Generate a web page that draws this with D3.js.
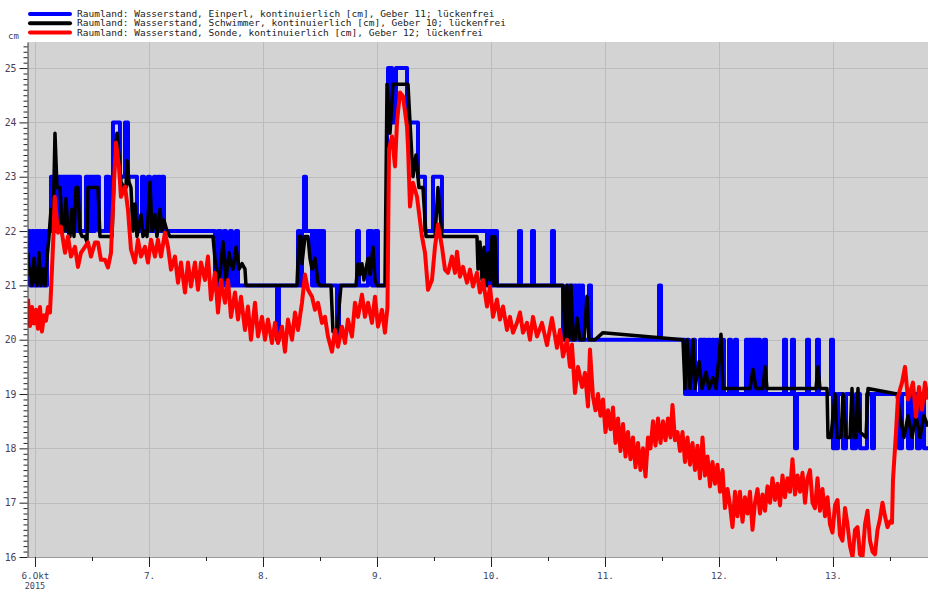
<!DOCTYPE html>
<html>
<head>
<meta charset="utf-8">
<script src="https://cdn.jsdelivr.net/npm/d3@7"></script>
<style>
body { margin: 0; background: #fff; }
svg text { font-family: "DejaVu Sans Mono", "Liberation Mono", monospace; }
</style>
</head>
<body>
<div class="chart"></div>
<script>
// Raumland water level, 6. - 13. Oct 2015
// times are hours after 6 Oct 2015 00:00, levels in cm

var seriesNames = [
    "Raumland: Wasserstand, Einperl, kontinuierlich [cm], Geber 11; lückenfrei",
    "Raumland: Wasserstand, Schwimmer, kontinuierlich [cm], Geber 10; lückenfrei",
    "Raumland: Wasserstand, Sonde, kontinuierlich [cm], Geber 12; lückenfrei"
];
var seriesColors = ["#0000ff", "#000000", "#ff0000"];
var yTicks = [16, 17, 18, 19, 20, 21, 22, 23, 24, 25];
var xTickLabels = ["6.Okt", "7.", "8.", "9.", "10.", "11.", "12.", "13."];
var yearLabel = "2015";
var unitLabel = "cm";

// Einperl, whole cm, value holds until the next entry
var einperl = [
    [-1.47,22],[-1.05,21],[-0.63,22],[-0.21,21],[0.21,22],[0.63,21],[0.84,22],[1.26,21],[1.68,22],[2.11,21],
    [2.53,22],[3.37,23],[4.0,22],[4.21,23],[4.84,22],[5.05,23],[5.68,22],[5.89,23],[6.53,22],[6.74,23],
    [7.37,22],[7.58,23],[8.21,22],[8.42,23],[8.84,22],[9.05,23],[9.47,22],[10.74,23],[11.16,22],[11.37,23],
    [11.79,22],[12.0,23],[12.42,22],[12.63,23],[13.47,22],[14.95,23],[15.58,22],[16.21,23],[16.42,24],[17.89,23],
    [18.95,24],[19.58,23],[21.47,22],[22.53,23],[22.95,22],[23.79,23],[24.21,22],[25.05,23],[25.47,22],[25.89,23],
    [26.32,22],[26.74,23],[27.16,22],[37.89,21],[38.53,22],[39.16,21],[39.79,22],[40.21,21],[41.05,22],[41.47,21],
    [42.32,22],[42.74,21],[50.95,20],[51.37,21],[55.37,22],[55.79,21],[56.21,22],[56.63,23],[57.05,22],[58.32,21],
    [58.53,22],[59.16,21],[59.37,22],[60.0,21],[60.21,22],[60.84,21],[63.58,20],[64.0,21],[67.79,22],[68.21,21],
    [70.11,22],[70.95,21],[71.58,22],[72.21,21],[73.89,22],[74.11,24],[74.32,25],[75.16,24],[76.0,25],[78.32,24],
    [80.63,23],[82.11,22],[83.79,23],[85.68,22],[95.16,21],[95.58,22],[96.0,21],[96.21,22],[96.63,21],[96.84,22],
    [97.26,21],[101.89,22],[102.32,21],[104.63,22],[105.05,21],[108.84,22],[109.26,21],[111.16,20],[112.0,21],[112.42,20],
    [112.84,21],[113.26,20],[113.68,21],[113.89,20],[114.32,21],[114.74,20],[115.16,21],[115.37,20],[116.63,21],[117.05,20],
    [131.37,21],[131.79,20],[136.84,19],[137.26,20],[137.68,19],[138.53,20],[138.95,19],[140.0,20],[140.42,19],[140.63,20],
    [141.26,19],[141.68,20],[142.11,19],[142.53,20],[142.95,19],[143.37,20],[143.79,19],[144.63,20],[145.05,19],[146.11,20],
    [146.53,19],[147.37,20],[147.79,19],[149.68,20],[150.11,19],[150.32,20],[150.74,19],[150.95,20],[151.16,19],[151.37,20],
    [152.0,19],[152.21,20],[152.63,19],[153.47,20],[153.89,19],[157.68,20],[158.11,19],[159.37,20],[159.79,19],[160.0,18],
    [160.42,19],[162.53,20],[162.95,19],[164.63,20],[165.05,19],[167.58,20],[168.0,18],[168.42,19],[168.63,18],[169.05,19],
    [170.11,18],[170.74,19],[172.0,18],[172.84,19],[173.68,18],[175.16,19],[176.21,18],[176.63,19],[181.89,18],[182.53,19],
    [183.79,18],[184.63,19],[185.68,18],[186.32,19],[187.16,18],[188.0,18]
];

// Schwimmer
var schwimmer = [
    [-1.47,21.6],[-1.26,21.2],[-0.84,21.3],[-0.63,21.0],[-0.21,21.5],[0,21.1],[0.42,21.0],[0.84,21.6],[1.26,21.0],[1.68,21.3],
    [2.11,21.0],[2.53,21.5],[2.95,21.9],[3.37,22.4],[3.79,22.0],[4.21,23.8],[4.63,22.8],[5.26,22.8],[5.68,22.1],[6.11,22.0],
    [6.53,22.6],[6.95,22.0],[7.37,21.9],[7.79,22.4],[8.21,21.9],[8.63,22.8],[9.05,22.8],[9.47,22.0],[9.89,21.9],[10.53,21.9],
    [10.95,21.8],[11.16,22.8],[13.26,22.8],[13.68,21.9],[16.21,21.9],[16.84,23.4],[17.26,23.8],[17.68,23.4],[18.11,22.9],[18.74,22.8],
    [19.16,22.8],[19.37,23.3],[19.79,22.9],[20.21,22.8],[20.63,22.0],[21.05,22.5],[21.47,21.9],[21.89,22.1],[22.32,22.3],[22.74,21.9],
    [23.16,22.0],[23.58,21.9],[24.21,22.9],[24.63,22.0],[25.26,22.3],[25.68,21.9],[26.32,22.4],[26.74,22.0],[27.16,22.2],[27.79,22.0],
    [28.42,21.9],[37.47,21.9],[37.89,21.5],[38.53,21.1],[38.95,21.2],[39.58,21.8],[40.21,21.1],[40.84,21.6],[41.26,21.4],[41.68,21.3],
    [42.32,21.7],[42.95,21.3],[43.58,21.4],[44.21,21.3],[44.42,21.0],[55.16,21.0],[55.58,21.9],[56.0,21.9],[56.21,21.4],[56.84,21.9],
    [57.47,21.9],[57.89,21.5],[58.32,21.3],[58.95,21.5],[59.58,21.05],[60.0,21.0],[62.32,21.0],[62.74,20.15],[63.58,20.15],[64.42,21.0],
    [67.58,21.0],[68.0,21.4],[68.42,21.2],[68.84,21.4],[69.26,21.1],[69.68,21.3],[70.11,21.5],[70.53,21.2],[71.16,21.7],[71.58,21.1],
    [72.0,21.0],[73.68,21.0],[74.11,24.7],[74.74,23.8],[75.37,24.7],[78.53,24.7],[78.95,24.0],[79.58,23.0],[80.21,23.4],[80.84,22.8],
    [81.68,22.8],[82.32,21.9],[84.21,21.9],[84.84,22.8],[85.68,21.9],[93.05,21.9],[93.26,21.3],[93.68,21.8],[94.11,21.1],[94.53,21.7],
    [94.95,21.0],[95.37,21.6],[95.79,21.1],[96.21,21.9],[96.63,21.0],[96.84,21.9],[97.26,21.0],[111.16,21.0],[111.58,20.0],[112.0,21.0],
    [112.42,20.0],[112.84,21.0],[113.26,20.0],[113.68,20.0],[114.11,20.4],[114.74,20.0],[115.58,20.0],[116.21,20.8],[116.63,20.0],[117.89,20.0],
    [119.58,20.13],[136.42,20.0],[136.84,19.1],[137.26,20.0],[137.89,19.1],[138.53,20.0],[138.95,19.1],[139.79,19.6],[140.42,19.1],[141.26,19.4],
    [141.89,19.1],[142.74,19.3],[143.37,19.1],[144.42,20.1],[144.84,19.1],[150.53,19.1],[151.16,19.45],[151.79,19.1],[153.26,19.1],[153.68,19.5],
    [154.11,19.1],[164.42,19.1],[164.84,19.5],[165.26,19.1],[166.74,19.1],[166.95,18.2],[167.58,18.2],[168.42,19.0],[168.84,18.2],[169.68,18.2],
    [170.11,19.0],[170.74,18.2],[171.58,18.2],[172.0,19.1],[172.42,18.2],[172.84,18.2],[173.26,19.1],[173.68,18.3],[174.95,18.2],[175.37,19.1],
    [181.47,19.0],[182.11,18.6],[182.95,18.2],[183.79,18.6],[184.63,18.2],[185.47,18.6],[186.32,18.2],[187.16,18.6],[188.0,18.4]
];

// Sonde
var sonde = [
    [-1.47,20.75],[-1.05,20.25],[-0.63,20.6],[-0.21,20.3],[0.21,20.55],[0.63,20.2],[1.05,20.6],[1.47,20.15],[1.89,20.45],[2.32,20.35],
    [2.74,20.6],[3.16,20.5],[3.58,21.3],[3.9,21.95],[4.15,22.63],[4.84,21.97],[5.47,22.08],[6.32,21.6],[6.95,21.9],[7.58,21.53],
    [8.42,21.71],[9.05,21.34],[9.68,21.6],[10.53,21.71],[11.16,21.79],[11.79,21.53],[12.63,21.79],[13.26,21.79],[13.89,21.47],[14.74,21.47],
    [15.37,21.33],[16.0,21.6],[16.63,22.89],[17.05,23.63],[17.68,23.19],[18.1,22.63],[18.95,22.82],[19.58,22.39],[20.21,21.66],[21.05,21.42],
    [21.68,21.84],[22.32,21.53],[23.16,21.71],[23.79,21.42],[24.42,21.84],[25.26,21.53],[25.89,21.84],[26.53,21.53],[27.37,21.97],[28.0,21.71],
    [28.63,21.29],[29.47,21.53],[30.11,21.05],[30.74,21.42],[31.58,20.87],[32.21,21.42],[32.84,20.98],[33.68,21.42],[34.32,20.92],[34.95,21.42],
    [35.79,21.1],[36.42,21.53],[37.05,20.74],[37.89,21.23],[38.53,20.5],[39.16,21.1],[40.0,20.68],[40.63,21.1],[41.26,20.42],[42.11,20.87],
    [42.74,20.37],[43.37,20.79],[44.21,20.18],[44.84,20.61],[45.47,20.0],[46.32,20.68],[46.95,20.06],[47.79,20.42],[48.42,20.0],[49.05,20.37],
    [49.89,19.94],[50.53,20.31],[51.16,19.94],[52.0,20.24],[52.63,19.78],[53.26,20.37],[54.11,20.0],[54.74,20.5],[55.37,20.18],[56.21,20.68],
    [56.84,21.2],[57.47,20.92],[58.32,20.79],[58.95,20.55],[59.58,20.68],[60.42,20.31],[61.05,20.42],[61.68,20.06],[62.53,19.78],[63.16,20.18],
    [63.79,19.87],[64.63,20.24],[65.26,19.94],[65.89,20.37],[66.74,20.06],[67.37,20.68],[68.0,20.42],[68.84,20.83],[69.47,20.42],[70.11,20.68],
    [70.95,20.31],[71.58,20.79],[72.21,20.24],[73.05,20.55],[73.68,20.13],[74.21,20.6],[74.53,23.5],[75.16,23.74],[75.79,23.19],[76.21,24.0],
    [76.84,24.55],[77.47,24.48],[78.32,23.92],[78.53,23.55],[78.95,22.45],[79.58,22.89],[80.42,22.63],[80.84,22.34],[81.47,21.9],[82.11,21.6],
    [82.74,20.92],[83.58,21.1],[84.21,21.71],[84.84,22.12],[85.68,21.71],[86.32,21.29],[86.95,21.23],[87.79,21.53],[88.42,21.23],[88.84,21.62],
    [89.47,21.16],[90.11,21.34],[90.95,21.05],[91.58,21.29],[92.21,20.98],[93.05,21.23],[93.68,20.87],[94.32,21.1],[95.16,20.61],[95.79,20.98],
    [96.42,20.42],[97.26,20.74],[97.89,20.37],[98.53,20.61],[99.37,20.18],[100.0,20.42],[100.63,20.13],[101.47,20.31],[102.11,20.5],[102.74,20.13],
    [103.58,20.31],[104.21,20.0],[104.84,20.42],[105.68,20.06],[106.74,20.31],[107.79,19.9],[108.84,20.4],[109.89,19.85],[110.53,20.18],[111.16,19.69],
    [112.0,20.0],[112.63,19.5],[113.05,19.91],[113.68,19.02],[114.32,19.5],[115.16,19.13],[115.79,19.39],[116.42,18.77],[116.84,19.82],[117.47,18.95],
    [118.0,18.7],[118.53,19.0],[119.05,18.6],[119.58,18.9],[120.11,18.3],[120.63,18.7],[121.16,18.35],[121.68,18.75],[122.21,18.1],[122.74,18.55],
    [123.26,17.95],[123.79,18.45],[124.32,17.85],[124.84,18.3],[125.37,17.8],[125.89,18.2],[126.42,17.65],[126.95,18.1],[127.47,17.6],[128.0,18.0],
    [128.53,17.48],[129.05,18.2],[129.58,18.0],[130.11,18.5],[130.63,18.05],[131.16,18.55],[131.68,18.1],[132.21,18.5],[132.74,18.15],[133.26,18.55],
    [133.79,18.2],[134.21,18.8],[134.74,18.15],[135.26,18.3],[135.79,17.95],[136.32,18.3],[136.84,17.75],[137.37,18.2],[137.89,17.7],[138.42,18.1],
    [138.95,17.6],[139.47,18.05],[140.0,17.45],[140.53,18.2],[141.05,17.5],[141.58,17.85],[142.11,17.3],[142.63,17.75],[143.16,17.35],[143.68,17.7],
    [144.21,17.2],[144.74,17.6],[145.26,16.9],[145.79,17.25],[146.32,16.95],[146.84,16.55],[147.37,17.2],[147.89,16.75],[148.42,17.2],[148.95,16.65],
    [149.47,17.1],[150.0,16.8],[150.53,17.2],[151.05,16.5],[151.58,17.0],[152.11,17.25],[152.63,16.8],[153.16,17.15],[153.68,16.85],[154.21,17.3],
    [154.74,17.0],[155.26,17.45],[155.79,17.05],[156.32,17.35],[156.84,16.95],[157.37,17.5],[157.89,17.1],[158.42,17.45],[158.95,17.2],[159.47,17.8],
    [160.0,17.15],[160.53,17.5],[161.05,17.2],[161.58,17.55],[162.11,17.0],[162.63,17.45],[163.16,17.6],[163.68,17.0],[164.21,16.9],[164.74,17.45],
    [165.26,16.85],[165.79,17.25],[166.32,16.75],[166.84,17.1],[167.37,16.6],[167.89,16.45],[168.42,16.95],[168.95,17.05],[169.47,16.4],[170.0,16.3],
    [170.53,16.9],[171.05,16.6],[171.58,16.2],[172.11,16.0],[172.63,16.5],[173.16,16.55],[173.68,16.05],[174.21,16.0],[174.74,16.6],[175.26,16.85],
    [175.79,16.3],[176.32,16.1],[176.84,16.05],[177.37,16.5],[177.89,16.7],[178.42,17.0],[178.95,16.75],[179.47,16.55],[180.0,16.65],[180.42,16.63],
    [180.63,17.42],[181.26,18.29],[181.68,18.95],[182.53,19.21],[183.16,19.5],[183.79,18.9],[184.84,19.21],[185.47,18.58],[186.11,19.13],[186.74,18.71],
    [187.37,19.21],[188.0,18.9]
];

// size of the picture and the plot area
var svgWidth = 928;
var svgHeight = 589;
var margin = { top: 42, right: 0, bottom: 32, left: 28 };
var width = svgWidth - margin.left - margin.right;
var height = svgHeight - margin.top - margin.bottom;

var start = new Date(2015, 9, 6);
function toDate(h) {
    return new Date(start.getTime() + h * 3600000);
}

var svg = d3.select(".chart")
    .append("svg")
    .attr("width", svgWidth)
    .attr("height", svgHeight);

var chart = svg.append("g")
    .attr("transform", "translate(" + margin.left + "," + margin.top + ")");

// scales
var xScale = d3.scaleTime()
    .domain([toDate(-1.47), toDate(188)])
    .range([0, width]);
var yScale = d3.scaleLinear()
    .domain([16, 25.48])
    .range([height, 0]);

var days = d3.timeDay.range(toDate(0), toDate(169));
var noons = days.map(function(d) { return d3.timeHour.offset(d, 12); });
var minorY = d3.range(160, 255).filter(function(d) { return d % 10 !== 0; }).map(function(d) { return d / 10; });

// plot background and grid
chart.append("rect")
    .attr("width", width)
    .attr("height", height)
    .attr("fill", "#d3d3d3");

chart.append("g").selectAll("line")
    .data(yTicks)
    .enter().append("line")
    .attr("x1", 0)
    .attr("x2", width)
    .attr("y1", function(d) { return Math.round(yScale(d)) + 0.5; })
    .attr("y2", function(d) { return Math.round(yScale(d)) + 0.5; })
    .attr("stroke", "#bcbcbc");

chart.append("g").selectAll("line")
    .data(days)
    .enter().append("line")
    .attr("x1", function(d) { return Math.round(xScale(d)) + 0.5; })
    .attr("x2", function(d) { return Math.round(xScale(d)) + 0.5; })
    .attr("y1", 0)
    .attr("y2", height)
    .attr("stroke", "#bcbcbc");

// lines, clipped to the plot
svg.append("defs").append("clipPath")
    .attr("id", "plotclip")
    .append("rect")
    .attr("width", width)
    .attr("height", height);

var lineGroup = chart.append("g").attr("clip-path", "url(#plotclip)");

var stepLine = d3.line()
    .x(function(d) { return xScale(toDate(d[0])); })
    .y(function(d) { return yScale(d[1]); })
    .curve(d3.curveStepAfter);

var plainLine = d3.line()
    .x(function(d) { return xScale(toDate(d[0])); })
    .y(function(d) { return yScale(d[1]); });

[[einperl, stepLine, 4], [schwimmer, plainLine, 3.5], [sonde, plainLine, 4]].forEach(function(s, i) {
    lineGroup.append("path")
        .datum(s[0])
        .attr("d", s[1])
        .attr("fill", "none")
        .attr("stroke", seriesColors[i])
        .attr("stroke-width", s[2])
        .attr("stroke-linejoin", "round");
});

// x axis
var xAxis = chart.append("g")
    .attr("transform", "translate(0," + height + ")")
    .call(d3.axisBottom(xScale)
        .tickValues(days)
        .tickSize(10)
        .tickSizeOuter(0)
        .tickPadding(5)
        .tickFormat(function(d, i) { return xTickLabels[i]; }));
xAxis.select(".domain").attr("stroke", "#9a9a9a");
xAxis.selectAll(".tick line").attr("stroke", "#222");
xAxis.selectAll("text")
    .attr("fill", "#3b4562")
    .style("font-size", "9.3px");

var xMinor = chart.append("g")
    .attr("transform", "translate(0," + height + ")")
    .call(d3.axisBottom(xScale).tickValues(noons).tickSize(4).tickFormat(""));
xMinor.select(".domain").remove();
xMinor.selectAll(".tick line").attr("stroke", "#222");

chart.append("text")
    .attr("x", xScale(days[0]))
    .attr("y", height + 31.5)
    .attr("text-anchor", "middle")
    .attr("fill", "#3b4562")
    .style("font-size", "8.5px")
    .text(yearLabel);

// y axis
var yAxis = chart.append("g")
    .attr("transform", "translate(-0.5,0)")
    .call(d3.axisLeft(yScale)
        .tickValues(yTicks)
        .tickSize(8)
        .tickSizeOuter(0)
        .tickPadding(3)
        .tickFormat(d3.format("d")));
yAxis.select(".domain").attr("stroke", "#333");
yAxis.selectAll(".tick line").attr("stroke", "#222");
yAxis.selectAll("text")
    .attr("fill", "#4a3d5c")
    .style("font-size", "9.8px");

var yMinor = chart.append("g")
    .attr("transform", "translate(-0.5,0)")
    .call(d3.axisLeft(yScale).tickValues(minorY).tickSize(4).tickFormat(""));
yMinor.select(".domain").remove();
yMinor.selectAll(".tick line").attr("stroke", "#222");

svg.append("text")
    .attr("x", 8)
    .attr("y", 39)
    .attr("fill", "#4a3d5c")
    .style("font-size", "9px")
    .text(unitLabel);

// legend
var legend = svg.append("g")
    .attr("transform", "translate(30,14)");

var legendRow = legend.selectAll("g")
    .data(seriesNames)
    .enter().append("g")
    .attr("transform", function(d, i) { return "translate(0," + (i * 9.2) + ")"; });

legendRow.append("line")
    .attr("x1", 0)
    .attr("x2", 40)
    .attr("stroke", function(d, i) { return seriesColors[i]; })
    .attr("stroke-width", 4)
    .attr("stroke-linecap", "round");

legendRow.append("text")
    .attr("x", 47)
    .attr("dy", "0.33em")
    .attr("fill", "#222")
    .style("font-size", "9.5px")
    .text(function(d) { return d; });
</script>
</body>
</html>
